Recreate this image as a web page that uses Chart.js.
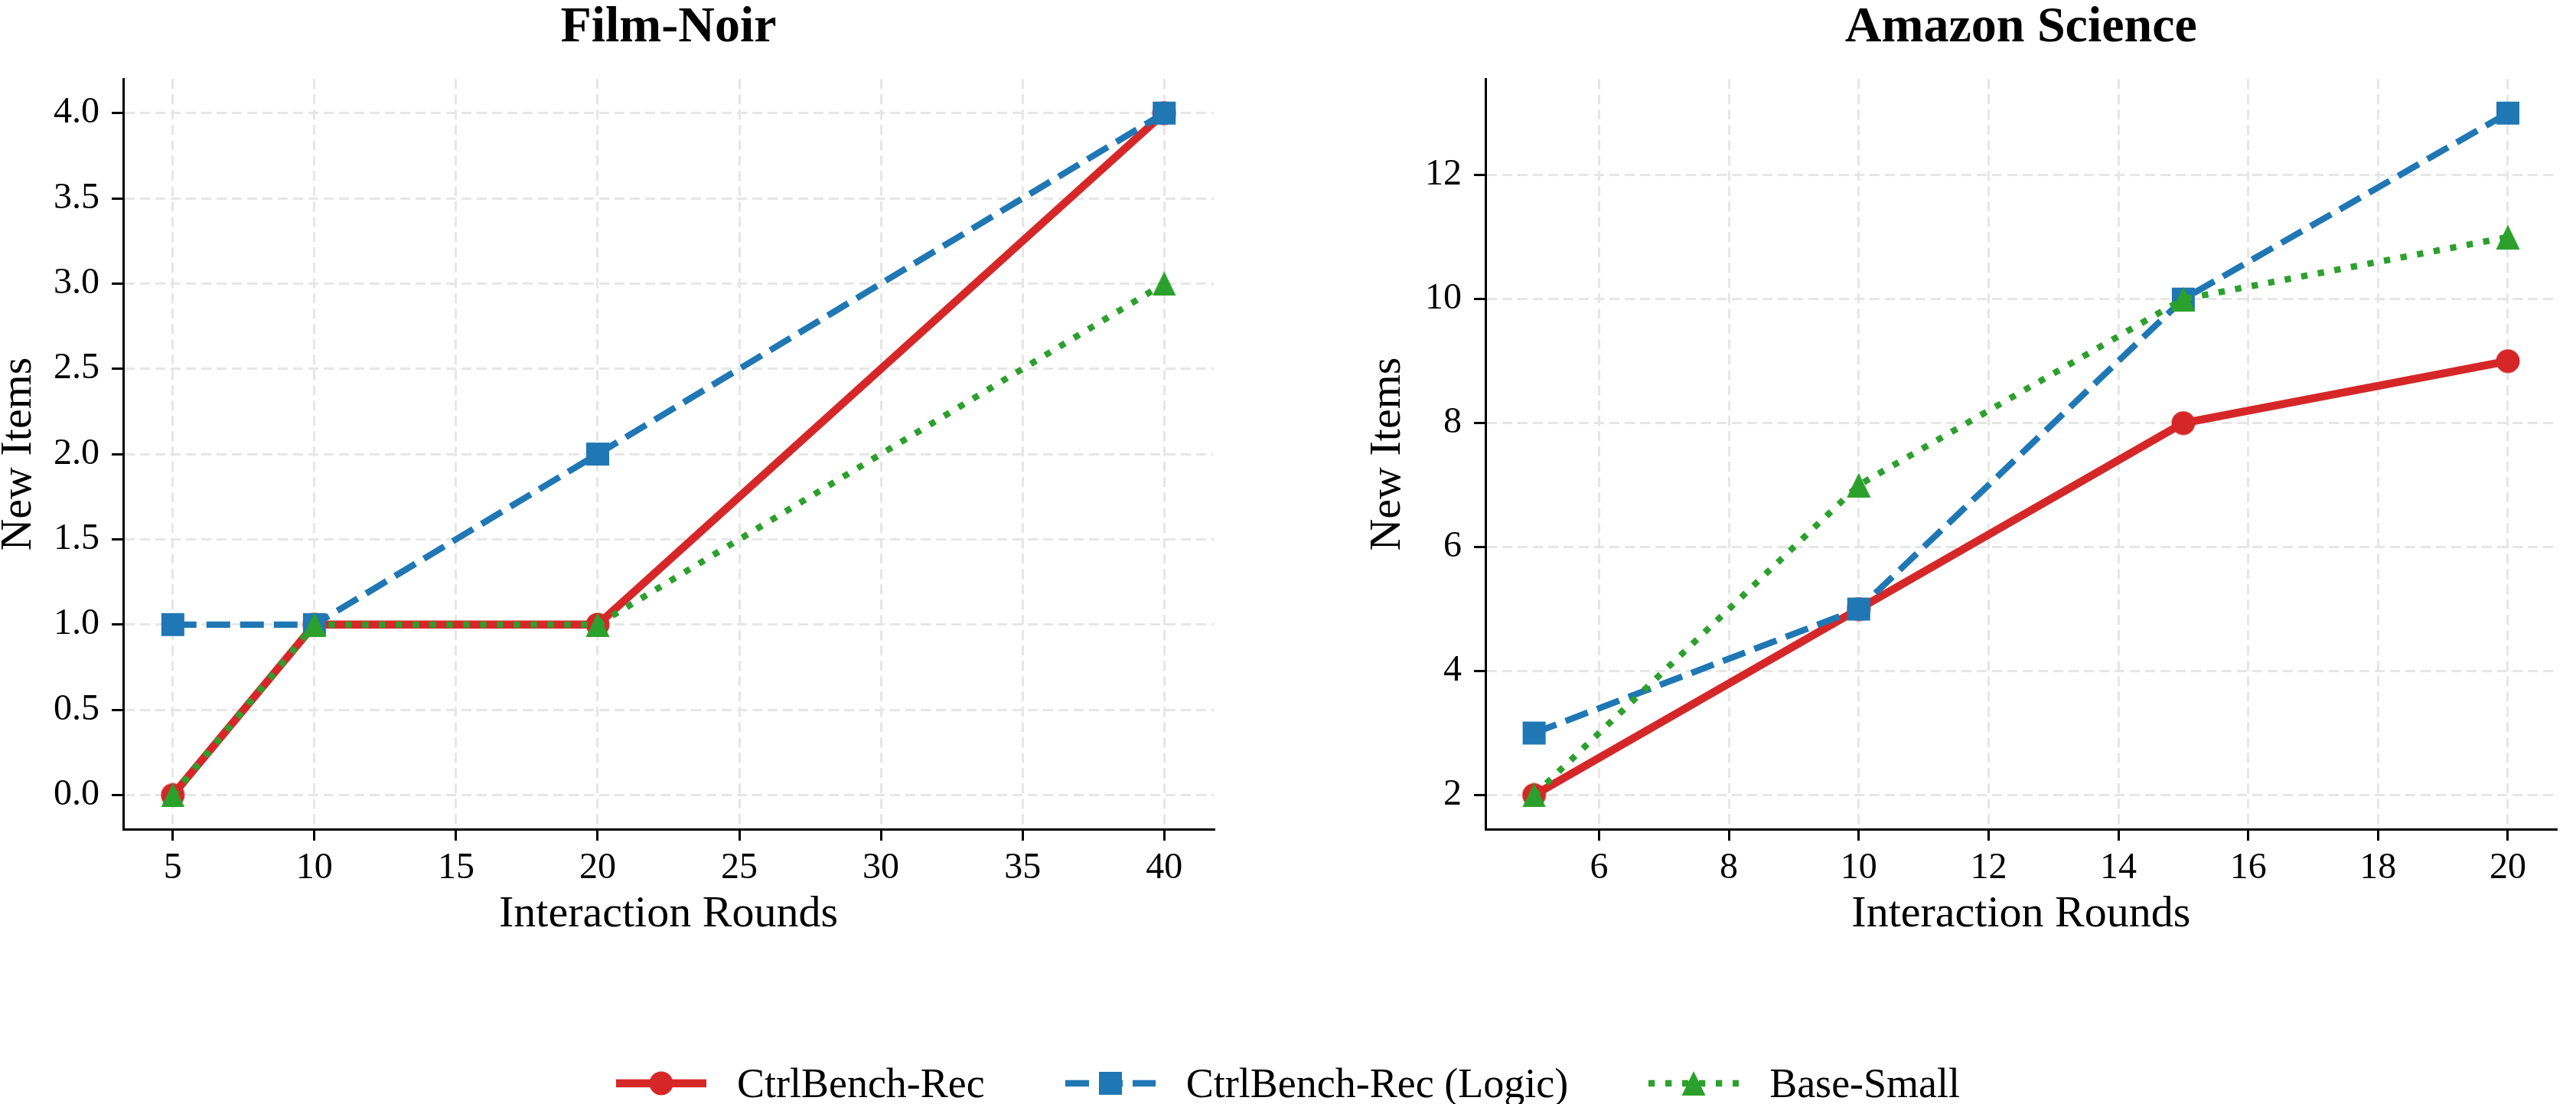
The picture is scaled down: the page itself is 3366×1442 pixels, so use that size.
<!DOCTYPE html>
<html>
<head>
<meta charset="utf-8">
<script src="https://cdn.jsdelivr.net/npm/chart.js@4.4.0/dist/chart.umd.min.js"></script>
<style>
  html, body { margin: 0; padding: 0; background: #fff; }
  body { width: 3366px; height: 1442px; position: relative; overflow: hidden;
         font-family: "Liberation Serif", "Times New Roman", serif; }
  #left { position: absolute; left: 0; top: 0; }
  #right { position: absolute; left: 1683px; top: 0; }
  #legend { position: absolute; left: 0; top: 1385px; width: 3366px; height: 60px;
            display: flex; justify-content: center; align-items: center; gap: 105px;
            font-size: 54px; color: #000; }
  .item { display: flex; align-items: center; white-space: nowrap; }
  .item canvas { margin-right: 40px; }
</style>
</head>
<body>
<canvas id="left" width="1683" height="1300"></canvas>
<canvas id="right" width="1683" height="1300"></canvas>
<div id="legend"></div>
<script>
const FONT = '"Liberation Serif", "Times New Roman", serif';

const seriesNames = ['CtrlBench-Rec', 'CtrlBench-Rec (Logic)', 'Base-Small'];
const seriesColors = ['#d62728', '#1f77b4', '#2ca02c'];

// Film-Noir panel
const filmRounds = [5, 10, 20, 40];
const filmRec = [0, 1, 1, 4];
const filmLogic = [1, 1, 2, 4];
const filmBase = [0, 1, 1, 3];
const filmXTicks = [5, 10, 15, 20, 25, 30, 35, 40];
const filmYTicks = [0, 0.5, 1, 1.5, 2, 2.5, 3, 3.5, 4];

// Amazon Science panel
const amazonRounds = [5, 10, 15, 20];
const amazonRec = [2, 5, 8, 9];
const amazonLogic = [3, 5, 10, 13];
const amazonBase = [2, 7, 10, 11];
const amazonXTicks = [6, 8, 10, 12, 14, 16, 18, 20];
const amazonYTicks = [2, 4, 6, 8, 10, 12];

const lineWidths = [10.4, 8.3, 8.3];
const lineDashes = [[], [31, 13], [8.3, 13.7]];
const markerShapes = ['circle', 'square', 'triangle'];

function markerCanvas(shape, color) {
  const s = 32;
  const c = document.createElement('canvas');
  c.width = s; c.height = s;
  const g = c.getContext('2d');
  g.fillStyle = color;
  g.beginPath();
  if (shape === 'circle') {
    g.arc(s / 2, s / 2, 15.5, 0, Math.PI * 2);
  } else if (shape === 'square') {
    g.rect(1, 1, 30, 30);
  } else {
    g.moveTo(s / 2, 0); g.lineTo(s - 0.5, s); g.lineTo(0.5, s); g.closePath();
  }
  g.fill();
  return c;
}

const markers = markerShapes.map((m, i) => markerCanvas(m, seriesColors[i]));

function dataset(i, xs, ys) {
  return {
    label: seriesNames[i],
    data: xs.map((x, k) => ({ x: x, y: ys[k] })),
    borderColor: seriesColors[i],
    backgroundColor: seriesColors[i],
    borderWidth: lineWidths[i],
    borderDash: lineDashes[i],
    borderCapStyle: 'butt',
    borderJoinStyle: 'round',
    pointStyle: markers[i],
    pointRadius: 15,
    pointHoverRadius: 15,
    tension: 0,
    fill: false,
    clip: false,
    order: 3 - i
  };
}

const gridOpts = {
  color: '#e6e6e6', lineWidth: 3,
  tickColor: '#000', tickWidth: 3, tickLength: 15, tickBorderDash: []
};
const borderOpts = { display: true, color: '#000', width: 3, dash: [13, 7] };

function makeChart(id, title, datasets, xTicks, yTicks, xLim, yLim, yFmt, yWidth, yTitlePad, rightPad) {
  return new Chart(document.getElementById(id), {
    type: 'line',
    data: { datasets: datasets },
    options: {
      responsive: false,
      animation: false,
      devicePixelRatio: 1,
      layout: { padding: { left: 0, right: rightPad, top: 0, bottom: 0 } },
      plugins: {
        legend: { display: false },
        tooltip: { enabled: false },
        title: {
          display: true, text: title, color: '#000', fullSize: false,
          font: { family: FONT, size: 66, weight: 'bold', lineHeight: 0.7 },
          padding: { top: 14, bottom: 43 }
        }
      },
      scales: {
        x: {
          type: 'linear', bounds: 'data', min: xLim[0], max: xLim[1],
          afterBuildTicks: s => { s.ticks = xTicks.map(v => ({ value: v })); },
          afterFit: s => { s.height = 217; },
          ticks: { font: { family: FONT, size: 48 }, color: '#000', padding: 8,
                   autoSkip: false, maxRotation: 0, callback: v => String(v) },
          grid: gridOpts,
          border: borderOpts,
          title: { display: true, text: 'Interaction Rounds', color: '#000',
                   font: { family: FONT, size: 58, lineHeight: 1 },
                   padding: { top: 0, bottom: 76 } }
        },
        y: {
          type: 'linear', bounds: 'data', min: yLim[0], max: yLim[1],
          afterBuildTicks: s => { s.ticks = yTicks.map(v => ({ value: v })); },
          afterFit: s => { s.width = yWidth; },
          ticks: { font: { family: FONT, size: 48 }, color: '#000', padding: 16,
                   autoSkip: false, callback: yFmt },
          grid: gridOpts,
          border: borderOpts,
          title: { display: true, text: 'New Items', color: '#000',
                   font: { family: FONT, size: 58, lineHeight: 0.7 },
                   padding: { top: yTitlePad, bottom: 0 } }
        }
      }
    }
  });
}

makeChart('left', 'Film-Noir',
  [dataset(0, filmRounds, filmRec), dataset(1, filmRounds, filmLogic), dataset(2, filmRounds, filmBase)],
  filmXTicks, filmYTicks, [3.25, 41.75], [-0.2, 4.2], v => v.toFixed(1), 161, 4, 97);

makeChart('right', 'Amazon Science',
  [dataset(0, amazonRounds, amazonRec), dataset(1, amazonRounds, amazonLogic), dataset(2, amazonRounds, amazonBase)],
  amazonXTicks, amazonYTicks, [4.25, 20.75], [1.45, 13.55], v => String(v), 258, 110, 2);

// shared legend under both panels
const legend = document.getElementById('legend');
seriesNames.forEach((name, i) => {
  const item = document.createElement('div');
  item.className = 'item';
  const c = document.createElement('canvas');
  c.width = 118; c.height = 40;
  const g = c.getContext('2d');
  g.strokeStyle = seriesColors[i];
  g.lineWidth = lineWidths[i];
  g.lineCap = 'butt';
  g.setLineDash(lineDashes[i]);
  g.beginPath(); g.moveTo(0, 20); g.lineTo(118, 20); g.stroke();
  g.drawImage(markers[i], 59 - 16, 20 - 16);
  const span = document.createElement('span');
  span.textContent = name;
  item.appendChild(c);
  item.appendChild(span);
  legend.appendChild(item);
});
</script>
</body>
</html>
